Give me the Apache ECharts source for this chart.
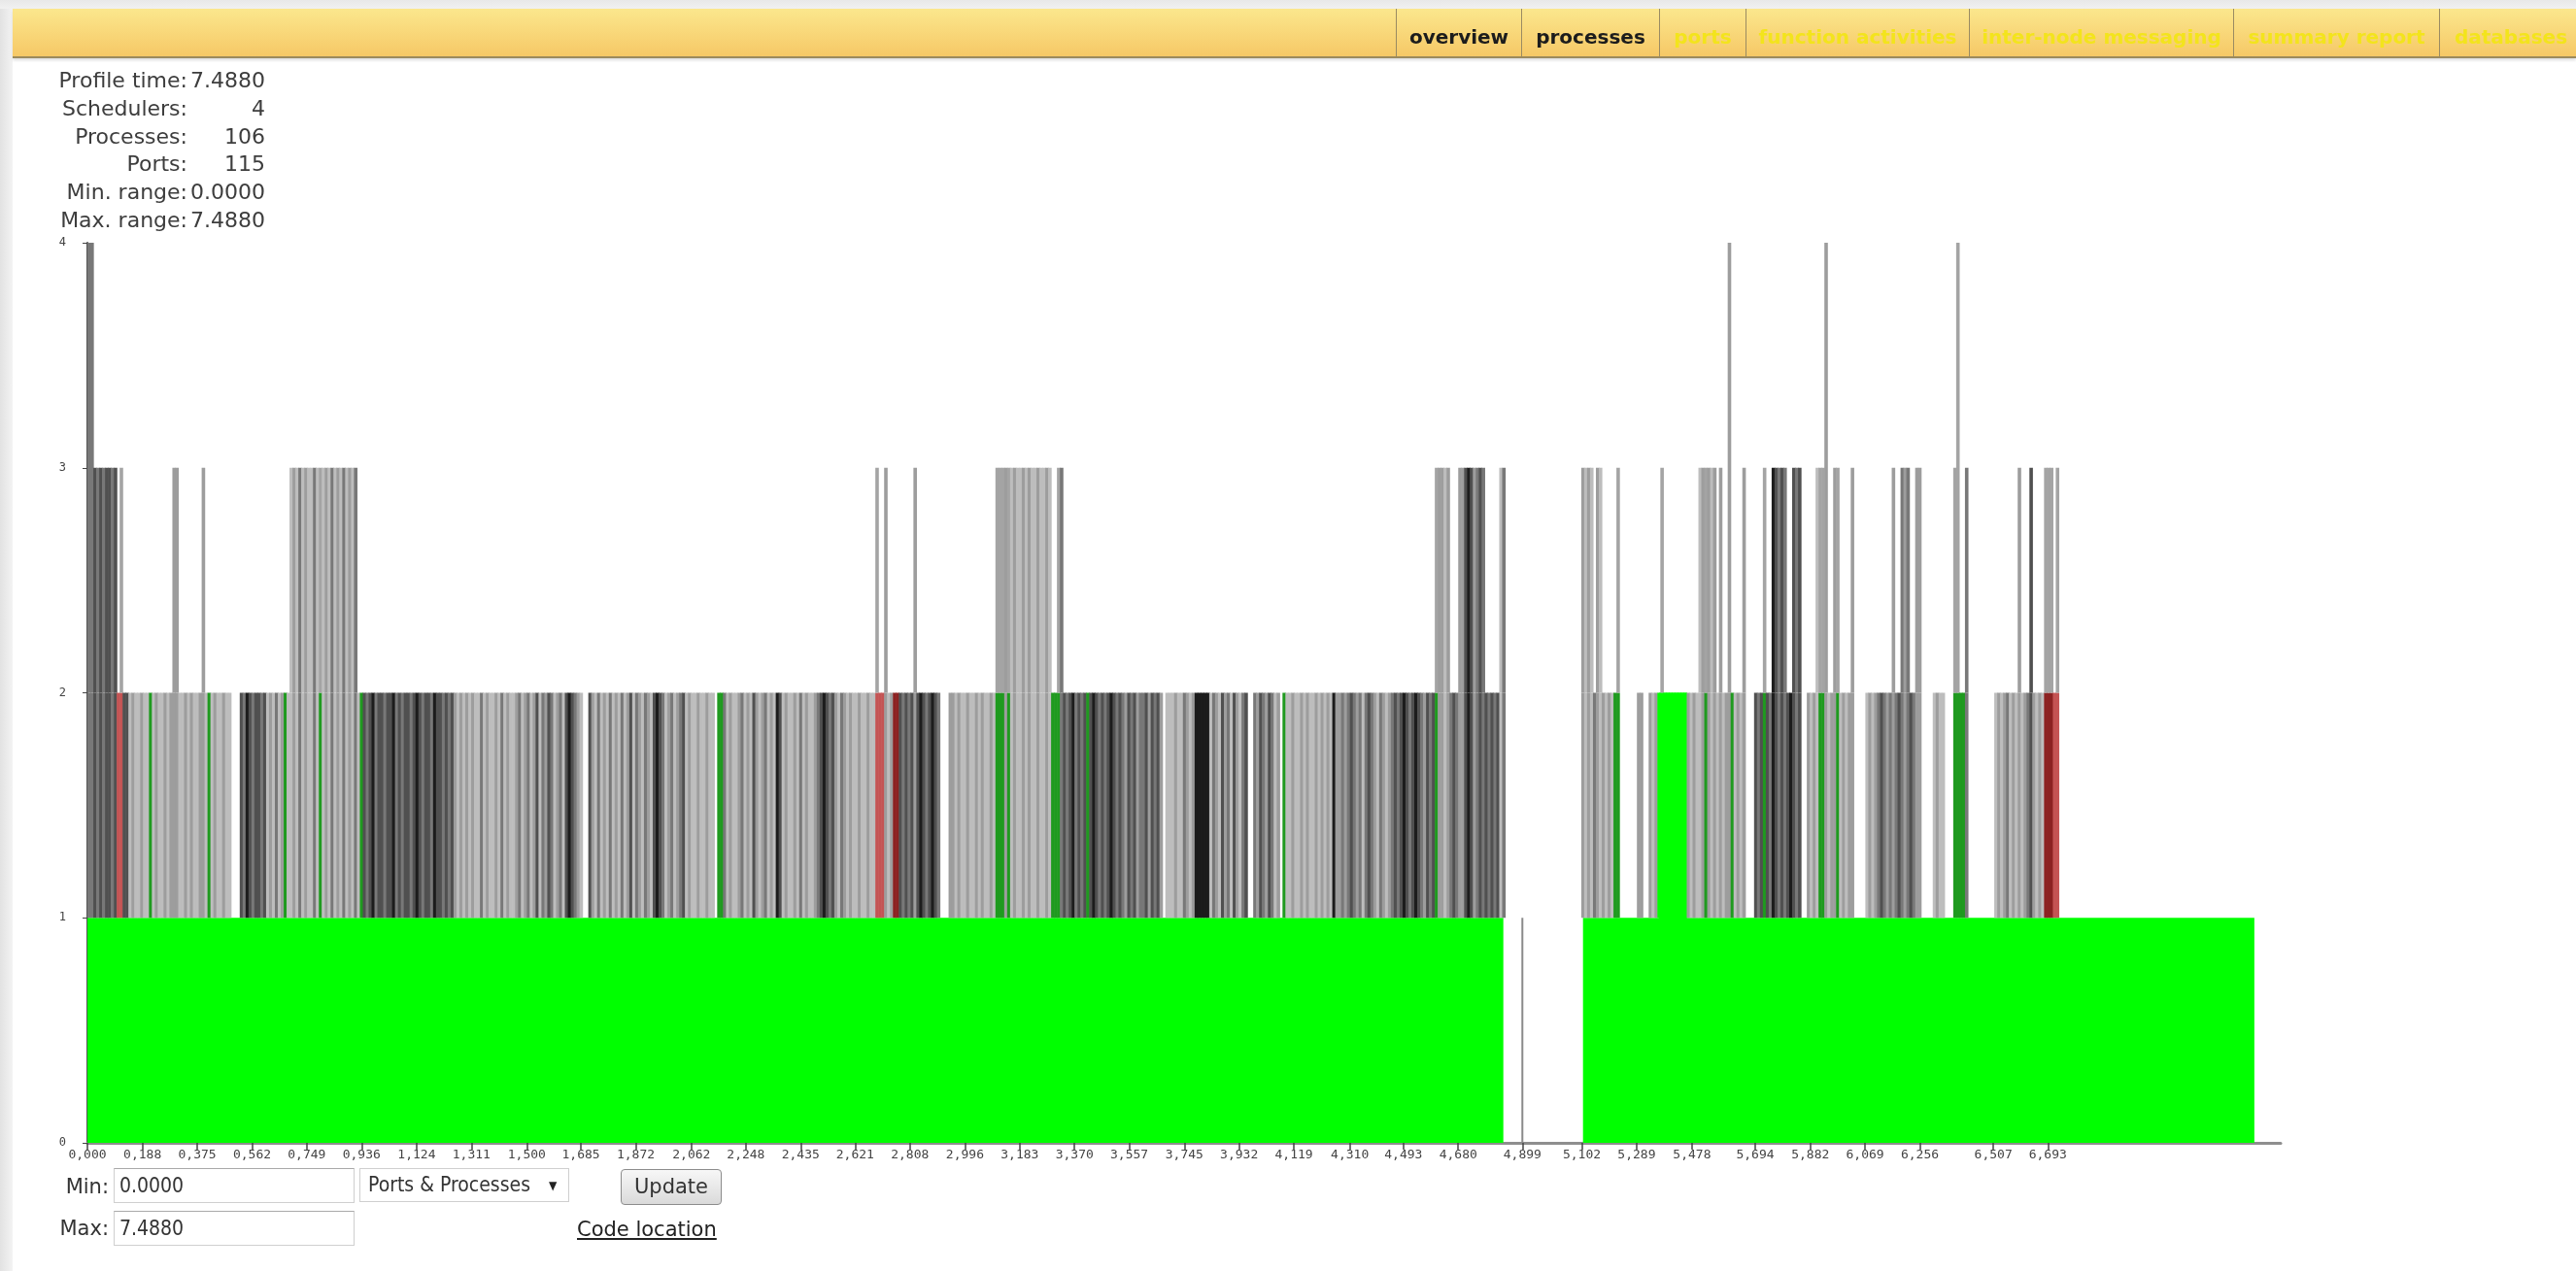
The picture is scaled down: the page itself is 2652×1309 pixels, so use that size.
<!DOCTYPE html>
<html><head><meta charset="utf-8">
<script src="https://cdn.jsdelivr.net/npm/echarts@6/dist/echarts.min.js"></script>
<style>
html,body{margin:0;padding:0;}
body{width:2652px;height:1309px;overflow:hidden;background:#fff;position:relative;font-family:'DejaVu Sans',sans-serif;}
#chart{position:absolute;left:0;top:0;width:2652px;height:1309px;z-index:1;}
.ov{position:absolute;z-index:2;}
.tab{position:absolute;z-index:3;top:9px;height:49px;line-height:58px;font-weight:bold;font-size:20px;text-align:center;white-space:nowrap;overflow:hidden;color:#f3e41c;}
.tab.on{color:#1c1c1c;}
.sep{position:absolute;z-index:3;top:9px;width:1px;height:49px;background:#9a8b62;}
.stl{position:absolute;z-index:2;left:0;width:193px;text-align:right;font-size:22px;line-height:28px;color:#3d3d3d;white-space:nowrap;}
.stv{position:absolute;z-index:2;left:190px;width:83px;text-align:right;font-size:22px;line-height:28px;color:#3d3d3d;white-space:nowrap;}
.lbl{position:absolute;z-index:2;width:112px;text-align:right;font-size:21px;color:#333;line-height:30px;}
.inp{position:absolute;z-index:2;box-sizing:border-box;background:#fff;border:1px solid #cfcfcf;border-top-color:#a9a9a9;font-family:'DejaVu Sans Condensed','DejaVu Sans',sans-serif;font-size:21px;color:#333;padding-left:5px;}
</style></head>
<body>
<div class="ov" style="left:0;top:0;width:13px;height:1309px;background:linear-gradient(to right,#e2e2e2,#f3f3f3);"></div>
<div class="ov" style="left:0;top:0;width:2652px;height:9px;background:linear-gradient(#e8e8e8,#f1f1f1);"></div>
<div class="ov" style="left:13px;top:9px;width:2639px;height:49px;background:linear-gradient(#fbe78d,#f6c866);border-bottom:2px solid #9c8a5c;box-shadow:0 2px 3px #dcdcdc;"></div>

<div class="sep" style="left:1437px"></div>
<div class="tab on" style="left:1438px;width:128px">overview</div>
<div class="sep" style="left:1566px"></div>
<div class="tab on" style="left:1567px;width:141px">processes</div>
<div class="sep" style="left:1708px"></div>
<div class="tab" style="left:1709px;width:88px">ports</div>
<div class="sep" style="left:1797px"></div>
<div class="tab" style="left:1798px;width:229px">function activities</div>
<div class="sep" style="left:2027px"></div>
<div class="tab" style="left:2028px;width:271px">inter-node messaging</div>
<div class="sep" style="left:2299px"></div>
<div class="tab" style="left:2300px;width:211px">summary report</div>
<div class="sep" style="left:2511px"></div>
<div class="tab" style="left:2512px;width:140px;text-align:left;padding-left:15px;box-sizing:border-box">databases</div>

<div id="chart"></div>

<div id="stats"></div>

<div class="lbl" style="left:0;top:1207px">Min:</div>
<div class="inp" style="left:117px;top:1203px;width:248px;height:36px;line-height:34px">0.0000</div>
<div class="inp" style="left:370px;top:1203px;width:216px;height:35px;line-height:33px;border-color:#cfcfcf;padding-left:8px;">Ports &amp; Processes<span style="position:absolute;left:194px;top:1px;font-size:12px;color:#222">&#9660;</span></div>
<div class="ov" style="left:639px;top:1204px;width:104px;height:37px;box-sizing:border-box;border:1px solid #8c8c8c;border-radius:4px;background:linear-gradient(#f7f7f7,#dadada);font-size:21px;line-height:35px;text-align:center;color:#333">Update</div>
<div class="lbl" style="left:0;top:1250px">Max:</div>
<div class="inp" style="left:117px;top:1247px;width:248px;height:36px;line-height:34px">7.4880</div>
<div class="ov" style="left:594px;top:1252px;font-size:21px;line-height:28px;color:#222;text-decoration:underline;white-space:nowrap">Code location</div>

<script>
// ---- data ----
const statLabels = ['Profile time:', 'Schedulers:', 'Processes:', 'Ports:', 'Min. range:', 'Max. range:'];
const statValues = ['7.4880', '4', '106', '115', '0.0000', '7.4880'];

const profileTime = 7.488;
const xTickValues = [0, 0.188, 0.375, 0.562, 0.749, 0.936, 1.124, 1.311, 1.500, 1.685, 1.872, 2.062, 2.248, 2.435,
  2.621, 2.808, 2.996, 3.183, 3.370, 3.557, 3.745, 3.932, 4.119, 4.310, 4.493, 4.680, 4.899, 5.102, 5.289, 5.478,
  5.694, 5.882, 6.069, 6.256, 6.507, 6.693];
const yTickValues = [0, 1, 2, 3, 4];

// processes area (green): [start time, end time, height]
const processArea = [[0, 4.834, 1], [5.106, 7.398, 1], [5.365, 5.461, 2]];
// thin spike inside the idle gap: [time, height]
const gapSpikes = [[4.899, 1]];

// sampled activity, one char per 0.01 s bin: top height of the bar (0/1 = no bar above the process area)
const binWidth = 0.01;
const levelRows = [
  "4433333333"+"2322222222"+"2222222223"+"3222222223"+"2222222221"+"1122222222"+"2222222223"+"3333333333"+"3333333333"+"3322222222",
  "2222222222"+"2222222222"+"2222222222"+"2222222222"+"2222222222"+"2222222222"+"2222222221"+"1222222222"+"2222222222"+"2222222222",
  "2222222222"+"2222122222"+"2222222222"+"2222222222"+"2222222222"+"2222222222"+"2222222223"+"2232222222"+"2232222222"+"2111222222",
  "2222222222"+"3333333333"+"3333333332"+"2332222222"+"2222222222"+"2222222222"+"2222222122"+"2222222222"+"2222222222"+"2222221122",
  "2222222122"+"2222222222"+"2222222222"+"2222222222"+"2222222222"+"2222222222"+"3333322233"+"3333333222"+"2233000000"+"0000000000",
  "0000000000"+"3333233222"+"2231111112"+"2112222322"+"2222222222"+"3333332322"+"4222231112"+"2232233333"+"2233311222"+"3334223322",
  "2231111222"+"2222223223"+"3322331111"+"2222111342"+"2311111111"+"1222222223"+"2223222233"+"3231111111"+"1111111111"+"1111111111",
  "1111111111"+"1111111111"+"1111111111"+"1111111111"
];
// kind of each bin: a-e = grey lines (light to black), g = green line, G = process fill, r/R = red lines, w = none
const kindRows = [
  "ccdcdcddcd"+"rrddabaaba"+"agabaababb"+"baababaabb"+"agabaabaaw"+"wwdcedcddc"+"dabacabgaa"+"bacabaacag"+"abacabacab"+"acagdcdecd",
  "dcddecdcdd"+"cdedcddced"+"dcdcdbabab"+"abaacabaab"+"acabaabcab"+"cabdacbdca"+"bcadedcbaw"+"wdbacabaca"+"bacabdacba"+"cbadedcabc",
  "abcdabaaba"+"abaawggcab"+"aabcabadba"+"bcabaedaba"+"abacabaabc"+"dedcdbacba"+"baabaabaar"+"rrbabRRdcd"+"cdbdedcded"+"cwwwbbabaa",
  "baababaaba"+"gggbgabaab"+"abaabaabag"+"ggcdcdecdc"+"dgdedcdcde"+"dcdcbdcdbc"+"cdbdcdbwaa"+"abaacbabee"+"eeeacbadbc"+"adbacdwwcb",
  "dcbdcabwga"+"abaababaab"+"ababaebbcb"+"cdcbcacdcb"+"acbabcdcde"+"dcdedcbdcd"+"gbbabcdcbb"+"dedbcdcdcd"+"cdacwwwwww"+"wwwwwwwwww",
  "wwwwwwwwww"+"babacbabab"+"aggwwwwwwb"+"bwwbabGGGG"+"GGGGGGbaba"+"abgbababab"+"bgababwwwd"+"cdgdcedcdc"+"dedcdwwbab"+"aggbabbgab",
  "abbwwwwaba"+"bcdcbcbcdc"+"bcdcbbwwww"+"abaawwwggg"+"gcwwwwwwww"+"wababcabab"+"abcdbabaRR"+"Rrrwwwwwww"+"wwwwwwwwww"+"wwwwwwwwww",
  "wwwwwwwwww"+"wwwwwwwwww"+"wwwwwwwwww"+"wwwwwwwwww"
];

// ---- styles ----
const kindKeys = ['a', 'b', 'c', 'd', 'e', 'g', 'G', 'r', 'R'];
const lowerColor = ['#bdbdbd', '#9d9d9d', '#787878', '#505050', '#1c1c1c', '#1f9a1f', '#00ff00', '#c45454', '#8c2222'];
const upperColor = ['#bdbdbd', '#9d9d9d', '#787878', '#505050', '#1c1c1c', '#a4a4a4', '#a4a4a4', '#a4a4a4', '#a4a4a4'];

// stats block
(function () {
  const box = document.getElementById('stats');
  statLabels.forEach((l, i) => {
    const top = 69 + i * 28.8;
    const a = document.createElement('div'); a.className = 'stl'; a.style.top = top + 'px'; a.textContent = l; box.appendChild(a);
    const b = document.createElement('div'); b.className = 'stv'; b.style.top = top + 'px'; b.textContent = statValues[i]; box.appendChild(b);
  });
})();

const levels = levelRows.join('');
const kinds = kindRows.join('');
const binData = [];
for (let i = 0; i < Math.min(levels.length, kinds.length); i++) {
  const top = +levels[i];
  const k = kindKeys.indexOf(kinds[i]);
  if (top >= 2 && k >= 0) binData.push([+(i * binWidth).toFixed(2), top, k]);
}

const chart = echarts.init(document.getElementById('chart'), null, { renderer: 'canvas' });
chart.setOption({
  animation: false,
  grid: { left: 90, top: 250, right: 304, bottom: 132, containLabel: false },
  xAxis: {
    type: 'value', min: 0, max: profileTime,
    axisLine: { show: true, onZero: false, lineStyle: { color: '#8e8e8e', width: 3 } },
    axisTick: { show: true, customValues: xTickValues, length: 7, lineStyle: { color: '#444', width: 1.5 } },
    axisLabel: {
      customValues: xTickValues, margin: 6,
      formatter: v => v.toFixed(3).replace('.', ','),
      fontFamily: 'DejaVu Sans Mono', fontSize: 13, color: '#444'
    },
    splitLine: { show: false }
  },
  yAxis: {
    type: 'value', min: 0, max: 4, interval: 1,
    axisLine: { show: true, lineStyle: { color: '#555', width: 2 } },
    axisTick: { show: true, length: 5, lineStyle: { color: '#444' } },
    axisLabel: { margin: 22, fontFamily: 'DejaVu Sans Mono', fontSize: 12, color: '#444' },
    splitLine: { show: false }
  },
  series: [
    {
      type: 'custom', z: 1, data: processArea, clip: true,
      renderItem: (params, api) => {
        const p0 = api.coord([api.value(0), 0]);
        const p1 = api.coord([api.value(1), api.value(2)]);
        return { type: 'rect', shape: { x: p0[0], y: p1[1], width: p1[0] - p0[0], height: p0[1] - p1[1] }, style: { fill: '#00ff00' } };
      }
    },
    {
      type: 'custom', z: 2, data: binData, clip: true,
      renderItem: (params, api) => {
        const t = api.value(0), top = api.value(1), k = api.value(2);
        const pA = api.coord([t, 1]);
        const pB = api.coord([t + binWidth, 2]);
        const w = pB[0] - pA[0] + 0.6;
        const children = [{ type: 'rect', shape: { x: pA[0], y: pB[1], width: w, height: pA[1] - pB[1] }, style: { fill: lowerColor[k] } }];
        if (top > 2) {
          const pT = api.coord([t, top]);
          children.push({ type: 'rect', shape: { x: pA[0], y: pT[1], width: w, height: pB[1] - pT[1] }, style: { fill: upperColor[k] } });
        }
        return { type: 'group', children };
      }
    },
    {
      type: 'custom', z: 3, data: gapSpikes, clip: true,
      renderItem: (params, api) => {
        const p0 = api.coord([api.value(0), 0]);
        const p1 = api.coord([api.value(0), api.value(1)]);
        return { type: 'line', shape: { x1: p0[0], y1: p0[1], x2: p1[0], y2: p1[1] }, style: { stroke: '#8a8a8a', lineWidth: 2 } };
      }
    }
  ]
});
</script>
</body></html>
